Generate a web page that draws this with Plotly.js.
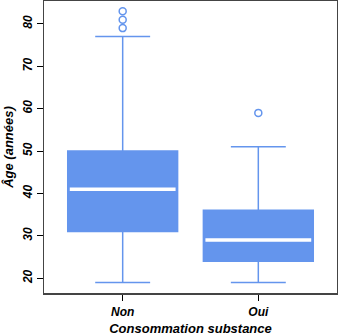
<!DOCTYPE html>
<html><head><meta charset="utf-8">
<script src="https://cdn.plot.ly/plotly-3.0.1.min.js"></script>
<style>html,body{margin:0;padding:0;background:#fff}#c{width:338px;height:336px}</style>
</head><body><div id="c"></div>
<script>
const categories = ["Non", "Oui"];
const q1 = [31, 24];
const medians = [41, 29];
const q3 = [50, 36];
const lowerWhisker = [19, 19];
const upperWhisker = [77, 51];
const outlierCats = ["Non", "Non", "Non", "Oui"];
const outlierVals = [79, 81, 83, 59];
const yTicks = [20, 30, 40, 50, 60, 70, 80];

const blue = "#6495ED";
const fnt = {family: "Liberation Sans, Arial, sans-serif", size: 12, color: "#000", weight: "bold", style: "italic"};
const tfnt = {family: "Liberation Sans, Arial, sans-serif", size: 13, color: "#000", weight: "bold", style: "italic"};

const traces = [
  {type: "box", x: categories, q1: q1, median: medians, q3: q3,
   lowerfence: lowerWhisker, upperfence: upperWhisker,
   fillcolor: blue, line: {color: blue, width: 1.5}, width: 0.81, whiskerwidth: 0.5,
   boxpoints: false, hoverinfo: "skip"},
  {type: "box", x: categories, q1: medians, median: medians, q3: medians,
   lowerfence: medians, upperfence: medians,
   fillcolor: "#fff", line: {color: "#fff", width: 3.5}, width: 0.78, whiskerwidth: 0,
   boxpoints: false, hoverinfo: "skip"},
  {type: "scatter", mode: "markers", x: outlierCats, y: outlierVals,
   marker: {symbol: "circle-open", size: 7, color: blue, line: {width: 1.5, color: blue}}}
];

const layout = {
  width: 338, height: 336,
  margin: {l: 44, r: 1, t: 1, b: 43},
  showlegend: false,
  paper_bgcolor: "#fff", plot_bgcolor: "#fff",
  xaxis: {type: "category", range: [-0.58, 1.58], showgrid: false, zeroline: false,
    showline: true, mirror: true, linecolor: "#444", linewidth: 1.5,
    ticks: "outside", ticklen: 6, tickwidth: 1, tickcolor: "#000",
    tickfont: fnt, ticklabelstandoff: 1,
    title: {text: "Consommation substance", font: tfnt, standoff: 12}},
  yaxis: {range: [16.5, 85.4], showgrid: false, zeroline: false,
    showline: true, mirror: true, linecolor: "#444", linewidth: 1.5,
    tickvals: yTicks, ticktext: yTicks.map(String), tickangle: -90,
    ticks: "outside", ticklen: 6, tickwidth: 1, tickcolor: "#000",
    tickfont: fnt,
    title: {text: "Âge (années)", font: tfnt, standoff: 4}}
};

Plotly.newPlot("c", traces, layout, {displayModeBar: false, staticPlot: true});
</script></body></html>
